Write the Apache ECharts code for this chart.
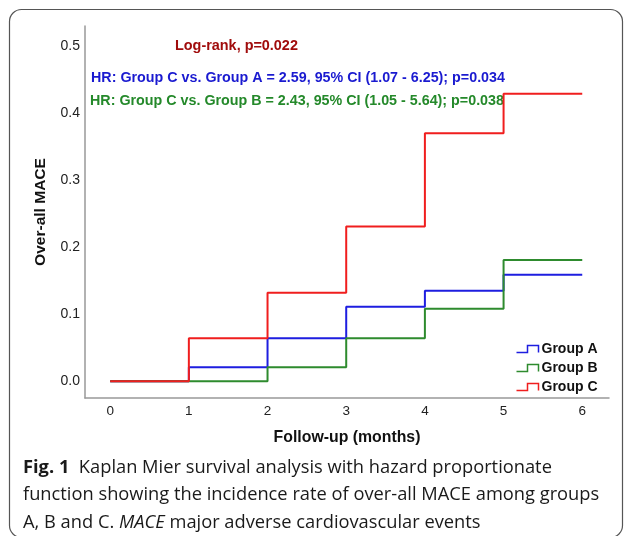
<!DOCTYPE html>
<html><head><meta charset="utf-8">
<script src="https://cdn.jsdelivr.net/npm/echarts@6/dist/echarts.min.js"></script>
<style>html,body{margin:0;padding:0;background:#fff}#c{width:627px;height:536px}</style>
</head><body><div id="c"></div>
<script>
const months = [0, 1, 2, 3, 4, 5, 6];
const groupA = [0, 0.021, 0.064, 0.111, 0.135, 0.159, 0.159];
const groupB = [0, 0, 0.021, 0.064, 0.108, 0.181, 0.181];
const groupC = [0, 0.064, 0.132, 0.231, 0.370, 0.429, 0.429];
const xTicks = [0, 1, 2, 3, 4, 5, 6];
const yTicks = [0, 0.1, 0.2, 0.3, 0.4, 0.5];
const names = ['Group A', 'Group B', 'Group C'];
const colors = ['#1e1ee0', '#2e8b2e', '#f01e1e'];
const logRankText = 'Log-rank, p=0.022';
const hrText1 = 'HR: Group C vs. Group A = 2.59, 95% CI (1.07 - 6.25); p=0.034';
const hrText2 = 'HR: Group C vs. Group B = 2.43, 95% CI (1.05 - 5.64); p=0.038';
const xName = 'Follow-up (months)';
const yName = 'Over-all MACE';

const FAM = '"Liberation Sans", Arial, sans-serif';
const CAPFAM = '"Open Sans", "Noto Sans", sans-serif';
const mctx = document.createElement('canvas').getContext('2d');
function fit(text, weight, target) {
  mctx.font = weight + ' 100px ' + FAM;
  return 100 * target / mctx.measureText(text).width;
}

const chart = echarts.init(document.getElementById('c'), null, {renderer: 'canvas'});
const mk = (arr) => months.map((m, i) => [m, arr[i]]);
const stepIcon = 'path://M0,7 L11,7 L11,0 L22,0 L22,7';

chart.setOption({
  animation: false,
  grid: {left: 85, right: 18, top: 26, bottom: 138},
  xAxis: {
    type: 'value', min: -0.32, max: 6.34,
    name: xName, nameLocation: 'middle', nameGap: 32,
    nameTextStyle: {fontFamily: FAM, fontWeight: 'bold', fontSize: fit(xName, 'bold', 147), color: '#111'},
    axisLine: {show: true, onZero: false, lineStyle: {color: '#999', width: 1.5}},
    axisTick: {show: false, customValues: xTicks},
    axisLabel: {customValues: xTicks, fontFamily: FAM, fontSize: 13.5, color: '#222', margin: 6},
    splitLine: {show: false}
  },
  yAxis: {
    type: 'value', min: -0.025, max: 0.53,
    name: yName, nameLocation: 'middle', nameGap: 36, nameRotate: 90,
    nameTextStyle: {fontFamily: FAM, fontWeight: 'bold', fontSize: fit(yName, 'bold', 108), color: '#111'},
    axisLine: {show: true, onZero: false, lineStyle: {color: '#999', width: 1.5}},
    axisTick: {show: false, customValues: yTicks},
    axisLabel: {customValues: yTicks, formatter: v => v.toFixed(1), fontFamily: FAM, fontSize: 14, color: '#222', margin: 5},
    splitLine: {show: false}
  },
  legend: {
    orient: 'vertical', left: 509, top: 337, itemGap: 5,
    itemWidth: 22, itemHeight: 7,
    textStyle: {fontFamily: FAM, fontSize: 14, fontWeight: 'bold', color: '#111', padding: [0, 0, 0, -2]},
    data: names.map((n, i) => ({name: n, icon: stepIcon,
      itemStyle: {color: 'none', borderColor: colors[i], borderWidth: 1.5}}))
  },
  series: [groupA, groupB, groupC].map((arr, i) => ({
    name: names[i], type: 'line', step: 'end', data: mk(arr),
    showSymbol: false, symbol: 'none',
    lineStyle: {color: colors[i], width: 2}, itemStyle: {color: colors[i]}
  })),
  graphic: [
    {type: 'rect', shape: {x: 9.5, y: 9.5, width: 613, height: 528, r: 12}, style: {fill: 'none', stroke: '#555', lineWidth: 1.2}, silent: true},
    {type: 'text', x: 175, y: 46, style: {text: logRankText, fill: '#a00c0c', verticalAlign: 'middle', font: 'bold ' + fit(logRankText, 'bold', 123).toFixed(2) + 'px ' + FAM}},
    {type: 'text', x: 91, y: 78, style: {text: hrText1, fill: '#1a1ad0', verticalAlign: 'middle', font: 'bold ' + fit(hrText1, 'bold', 414).toFixed(2) + 'px ' + FAM}},
    {type: 'text', x: 90, y: 101, style: {text: hrText2, fill: '#24892a', verticalAlign: 'middle', font: 'bold ' + fit(hrText2, 'bold', 414).toFixed(2) + 'px ' + FAM}},
    {type: 'text', left: 23, top: 454, style: {
      text: '{b|Fig. 1}  Kaplan Mier survival analysis with hazard proportionate\nfunction showing the incidence rate of over-all MACE among groups\nA, B and C. {i|MACE} major adverse cardiovascular events',
      fill: '#1a1a1a', font: '18.3px ' + CAPFAM, lineHeight: 27.5,
      rich: {
        b: {fontWeight: 'bold', fontSize: 18.3, fontFamily: CAPFAM, fill: '#1a1a1a', lineHeight: 27.5},
        i: {fontStyle: 'italic', fontSize: 18.3, fontFamily: CAPFAM, fill: '#1a1a1a', lineHeight: 27.5}
      }
    }}
  ]
});
</script></body></html>
